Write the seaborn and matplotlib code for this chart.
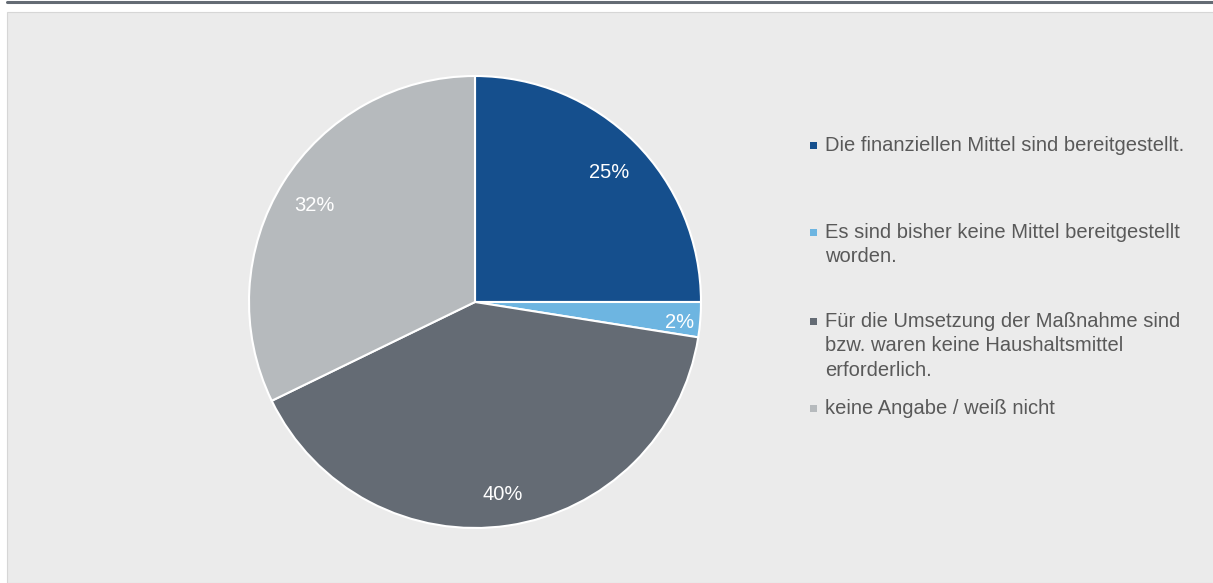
import numpy as np
import matplotlib
matplotlib.use("Agg")
import matplotlib.pyplot as plt
from matplotlib.patches import Rectangle
from matplotlib.lines import Line2D
import seaborn as sns

# Daten
kategorien = [
    "Die finanziellen Mittel sind bereitgestellt.",
    "Es sind bisher keine Mittel bereitgestellt\nworden.",
    "Für die Umsetzung der Maßnahme sind\nbzw. waren keine Haushaltsmittel\nerforderlich.",
    "keine Angabe / weiß nicht",
]
anteile = [25.0, 2.5, 40.3, 32.2]
beschriftungen = ["25%", "2%", "40%", "32%"]
farben = ["#154f8d", "#6db5e1", "#646b74", "#b6babd"]


def main() -> None:
    sns.set_style("white")
    plt.rcParams["font.family"] = ["Liberation Sans", "DejaVu Sans"]

    W, H = 1213, 583
    fig = plt.figure(figsize=(W / 100, H / 100), dpi=100)
    fig.patch.set_facecolor("white")

    # Hintergrundfläche und obere Linie
    fig.add_artist(Rectangle((7 / W, 0), 1, (H - 12) / H, transform=fig.transFigure,
                             facecolor="#ebebeb", edgecolor="#d6d6d6", lw=0.8, zorder=0))
    fig.add_artist(Line2D([7 / W, 1], [1 - 2 / H, 1 - 2 / H], transform=fig.transFigure,
                          color="#646b74", lw=2.2))

    # Kreisdiagramm
    ax = fig.add_axes([249 / W, 55 / H, 452 / W, 452 / H])
    palette = sns.color_palette(farben)
    wedges, _ = ax.pie(anteile, colors=palette, startangle=90, counterclock=False,
                       wedgeprops=dict(edgecolor="white", linewidth=1.5))
    ax.set_xlim(-1, 1)
    ax.set_ylim(-1, 1)
    ax.set_aspect("equal")
    ax.axis("off")
    ax.patch.set_alpha(0)

    # Prozentangaben
    for w, txt in zip(wedges, beschriftungen):
        mid = np.deg2rad((w.theta1 + w.theta2) / 2)
        r = 0.91 if (w.theta2 - w.theta1) < 20 else 0.84
        ax.text(r * np.cos(mid), r * np.sin(mid) - 0.02, txt, ha="center", va="center",
                color="white", fontsize=14.5)

    # Legende (manuell, Excel-artige Abstände)
    legend_y = [145, 232, 321, 408]
    for label, col, y in zip(kategorien, farben, legend_y):
        fig.add_artist(Rectangle((810 / W, 1 - (y + 4) / H), 7 / W, 7 / H,
                                 transform=fig.transFigure, facecolor=col, edgecolor="none"))
        fig.text(825 / W, 1 - (y - 9) / H, label, ha="left", va="top",
                 fontsize=14.5, color="#595959", linespacing=1.36)

    fig.savefig("out.png", dpi=100, facecolor=fig.get_facecolor())


if __name__ == "__main__":
    main()
